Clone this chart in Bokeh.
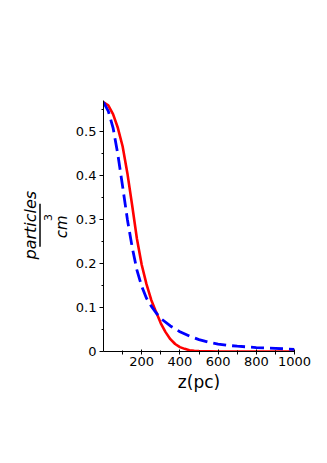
import math
from bokeh.plotting import figure
from bokeh.layouts import row
from bokeh.models import Range1d, FixedTicker
from bokeh.core.properties import value
from bokeh.embed import file_html
from bokeh.resources import INLINE

# Data
z_red = [0, 25, 50, 75, 100, 125, 150, 175, 200, 225, 250, 275, 300, 325, 350,
         375, 400, 425, 450, 475, 500, 600, 700, 800, 900, 1000]
n_red = [0.566, 0.559, 0.539, 0.508, 0.466, 0.405, 0.332, 0.256, 0.197, 0.153,
         0.117, 0.090, 0.064, 0.044, 0.028, 0.017, 0.010, 0.006, 0.003, 0.0015,
         0.0008, 0.0001, 0.0, 0.0, 0.0, 0.0]

z_blue = [0, 25, 50, 75, 100, 125, 150, 175, 200, 225, 250, 275, 300, 350, 400,
          450, 500, 550, 600, 650, 700, 800, 900, 1000]
n_blue = [0.566, 0.546, 0.508, 0.448, 0.375, 0.300, 0.237, 0.185, 0.148, 0.121,
          0.103, 0.088, 0.075, 0.058, 0.045, 0.035, 0.027, 0.021, 0.017, 0.014,
          0.012, 0.009, 0.007, 0.005]

x_ticks = [200, 400, 600, 800, 1000]
x_minor = [100, 300, 500, 700, 900]
y_ticks = [0, 0.1, 0.2, 0.3, 0.4, 0.5]
y_minor = [0.05, 0.15, 0.25, 0.35, 0.45, 0.55]

FONT = "DejaVu Sans"
H = 455
LW = 72

# ---- left panel: y-axis label as a fraction  particles / cm^3 ----
lp = figure(width=LW, height=H, output_backend="svg", toolbar_location=None,
            x_range=Range1d(0, LW), y_range=Range1d(0, H),
            x_axis_location=None, y_axis_location=None,
            min_border=0, min_border_left=0, min_border_right=0,
            min_border_top=0, min_border_bottom=0)
lp.outline_line_color = None
lp.grid.visible = False

rot = math.pi / 2
lp.text(x=[29.5], y=[H - 226], text=["particles"], angle=rot,
        text_align="center", text_baseline="middle",
        text_font=value(FONT), text_font_style="italic",
        text_font_size="16px", text_color="black")
lp.text(x=[61], y=[H - 229], text=["cm"], angle=rot,
        text_align="center", text_baseline="middle",
        text_font=value(FONT), text_font_style="italic",
        text_font_size="15px", text_color="black")
lp.text(x=[47], y=[H - 212], text=["3"], angle=rot,
        text_align="center", text_baseline="middle",
        text_font=value(FONT), text_font_style="normal",
        text_font_size="11px", text_color="black")
lp.segment(x0=[39.5], y0=[H - 187], x1=[39.5], y1=[H - 265],
           line_color="black", line_width=1.5)

# ---- main chart ----
p = figure(width=247, height=H, output_backend="svg", toolbar_location=None,
           x_range=Range1d(0, 1000), y_range=Range1d(0, 0.57),
           min_border_left=30, min_border_right=25, min_border_top=100,
           min_border_bottom=104)
p.outline_line_color = None
p.grid.visible = False

p.line(z_red, n_red, line_color="#ff0000", line_width=2.6)
p.line(z_blue, n_blue, line_color="#0000ff", line_width=2.8, line_dash="13 6")

xa = p.xaxis[0]
xa.ticker = FixedTicker(ticks=x_ticks, minor_ticks=x_minor)
xa.major_tick_in = 2
xa.major_tick_out = 3
xa.minor_tick_in = 1
xa.minor_tick_out = 3
xa.major_label_standoff = 2
xa.major_label_text_font = FONT
xa.major_label_text_font_size = "13px"
xa.major_label_text_color = "black"
xa.axis_label = "z(pc)"
xa.axis_label_text_font = FONT
xa.axis_label_text_font_size = "17px"
xa.axis_label_text_font_style = "normal"
xa.axis_label_text_color = "black"
xa.axis_label_standoff = 3
xa.axis_line_color = "black"

ya = p.yaxis[0]
ya.ticker = FixedTicker(ticks=y_ticks, minor_ticks=y_minor)
ya.major_tick_in = 0
ya.major_tick_out = 4
ya.minor_tick_in = 0
ya.minor_tick_out = 2
ya.major_label_standoff = 3
ya.major_label_text_font = FONT
ya.major_label_text_font_size = "13px"
ya.major_label_text_color = "black"
ya.major_label_overrides = {0: "0"}
ya.axis_line_color = "black"

layout = row(lp, p, spacing=0)
open("out.html", "w").write(file_html(layout, INLINE))
